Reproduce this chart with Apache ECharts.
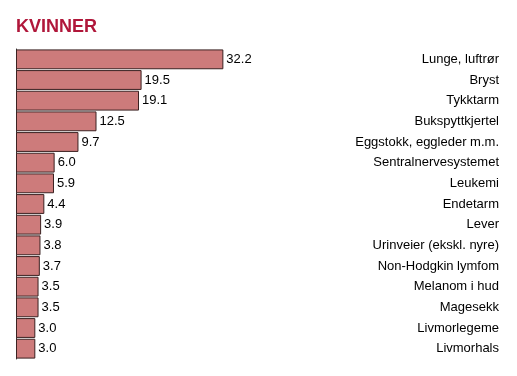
<!DOCTYPE html>
<html>
<head>
    <meta charset="utf-8" />
    <title>Kvinner</title>
    <script src="https://cdn.jsdelivr.net/npm/echarts@6/dist/echarts.min.js"></script>
</head>
<body style="margin: 0">
    <div id="main" style="width: 517px; height: 376px"></div>
    <script type="text/javascript">
        var categories = [
            "Lunge, luftrør",
            "Bryst",
            "Tykktarm",
            "Bukspyttkjertel",
            "Eggstokk, eggleder m.m.",
            "Sentralnervesystemet",
            "Leukemi",
            "Endetarm",
            "Lever",
            "Urinveier (ekskl. nyre)",
            "Non-Hodgkin lymfom",
            "Melanom i hud",
            "Magesekk",
            "Livmorlegeme",
            "Livmorhals"
        ];
        var values = [32.2, 19.5, 19.1, 12.5, 9.7, 6.0, 5.9, 4.4, 3.9, 3.8, 3.7, 3.5, 3.5, 3.0, 3.0];

        var myChart = echarts.init(document.getElementById("main"));
        var option = {
            animation: false,
            title: {
                text: "KVINNER",
                left: 11,
                top: 13,
                textStyle: {
                    fontFamily: "Liberation Sans, Arial, sans-serif",
                    fontSize: 18,
                    fontWeight: "bold",
                    color: "#b0173a"
                }
            },
            grid: {
                left: 16,
                right: 18,
                top: 49,
                bottom: 17
            },
            xAxis: {
                type: "value",
                min: 0,
                max: 75,
                show: false
            },
            yAxis: [
                {
                    type: "category",
                    data: categories,
                    inverse: true,
                    position: "left",
                    axisLine: { show: true, lineStyle: { color: "#333", width: 1 } },
                    axisTick: { show: false },
                    axisLabel: { show: false }
                },
                {
                    type: "category",
                    data: categories,
                    inverse: true,
                    position: "right",
                    axisLine: { show: false },
                    axisTick: { show: false },
                    axisLabel: {
                        inside: true,
                        margin: 0,
                        fontFamily: "Liberation Sans, Arial, sans-serif",
                        fontSize: 13,
                        color: "#000"
                    }
                }
            ],
            series: [
                {
                    type: "bar",
                    data: values,
                    barCategoryGap: "4%",
                    itemStyle: {
                        color: "#cd7b7b",
                        borderColor: "#3b2222",
                        borderWidth: 1
                    },
                    label: {
                        show: true,
                        position: "right",
                        distance: 3,
                        formatter: function (p) {
                            return p.value.toFixed(1);
                        },
                        fontFamily: "Liberation Sans, Arial, sans-serif",
                        fontSize: 13,
                        color: "#000"
                    }
                }
            ]
        };
        myChart.setOption(option);
    </script>
</body>
</html>
